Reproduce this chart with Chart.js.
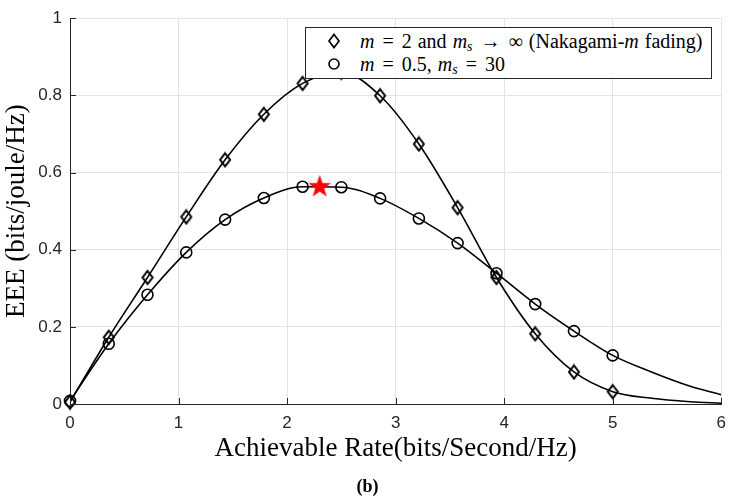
<!DOCTYPE html>
<html><head><meta charset="utf-8">
<script src="https://cdn.jsdelivr.net/npm/chart.js@4.4.1/dist/chart.umd.min.js"></script>
<style>
html,body{margin:0;padding:0;background:#fff;}
#wrap{position:relative;width:735px;height:496px;}
#legend{position:absolute;left:305px;top:27px;width:407px;height:52px;border:1px solid #262626;background:#fff;box-sizing:border-box;font-family:"Liberation Serif","DejaVu Serif",serif;font-size:20px;color:#000;word-spacing:1px;}
.row{position:absolute;left:0;height:24px;line-height:24px;white-space:nowrap;}
.row svg{position:absolute;left:21px;top:4px;}
.row span{position:absolute;left:54px;top:0;}
.op{margin:0 2px;}
#cap{position:absolute;left:0;width:735px;top:475px;text-align:center;font-family:"Liberation Serif","DejaVu Serif",serif;font-weight:bold;font-size:18px;line-height:22px;}
sub{font-size:70%;vertical-align:-3px;line-height:0;}
</style></head>
<body><div id="wrap"><canvas id="c" width="735" height="496"></canvas>
<div id="legend">
<div class="row" style="top:1px"><svg width="14" height="16"><polygon points="7,1.5 12,8 7,14.5 2,8" fill="none" stroke="#000" stroke-width="1.7"/></svg><span><i>m</i> <span class="op" style="position:static">=</span> 2 and <i>m<sub>s</sub></i> <span class="op" style="position:static">→</span> ∞ (Nakagami-<i>m</i> fading)</span></div>
<div class="row" style="top:24px"><svg width="14" height="16"><circle cx="7" cy="8" r="5" fill="none" stroke="#000" stroke-width="1.6"/></svg><span><i>m</i> <span class="op" style="position:static">=</span> 0.5, <i>m<sub>s</sub></i> <span class="op" style="position:static">=</span> 30</span></div>
</div>
<div id="cap">(b)</div>
</div>
<script>
// ---- data ----
const rateX = [0, 0.357, 0.714, 1.071, 1.429, 1.786, 2.143, 2.5, 2.857, 3.214, 3.571, 3.929, 4.286, 4.643, 5.0];
const eeeNakagami = [0.005, 0.173, 0.328, 0.485, 0.633, 0.751, 0.831, 0.86, 0.799, 0.674, 0.509, 0.328, 0.182, 0.083, 0.032];
const eeeShadowed = [0.008, 0.156, 0.283, 0.393, 0.478, 0.534, 0.563, 0.562, 0.533, 0.481, 0.417, 0.339, 0.259, 0.189, 0.126];
const tailX = [5.357, 5.714, 6.0];
const tailNakagami = [0.015, 0.006, 0.002];
const tailShadowed = [0.083, 0.046, 0.024];
const starX = [2.3];
const starY = [0.563];
const xTickValues = [0, 1, 2, 3, 4, 5, 6];
const yTickValues = [0, 0.2, 0.4, 0.6, 0.8, 1];
const xTitle = 'Achievable Rate(bits/Second/Hz)';
const yTitle = 'EEE (bits/joule/Hz)';

const pts = (xs, ys) => xs.map((x, i) => ({x, y: ys[i]}));

// marker images
function diamondImg(){
  const c = document.createElement('canvas'); c.width = 14; c.height = 17;
  const g = c.getContext('2d'); g.strokeStyle = '#000'; g.lineWidth = 2;
  g.beginPath(); g.moveTo(7,2); g.lineTo(12,8.5); g.lineTo(7,15); g.lineTo(2,8.5); g.closePath(); g.stroke();
  return c;
}
function starImg(){
  const c = document.createElement('canvas'); c.width = 26; c.height = 26;
  const g = c.getContext('2d'); g.fillStyle = '#ff0000';
  const R = 12, r = 4.7, cx = 13, cy = 13;
  g.beginPath();
  for (let i = 0; i < 10; i++){
    const a = -Math.PI/2 + i*Math.PI/5; const rr = i%2 ? r : R;
    const px = cx + rr*Math.cos(a), py = cy + rr*Math.sin(a);
    i ? g.lineTo(px,py) : g.moveTo(px,py);
  }
  g.closePath(); g.fill();
  return c;
}

const inwardTicks = {
  id: 'inwardTicks',
  afterDatasetsDraw(chart){
    const {ctx, chartArea: a, scales: {x, y}} = chart;
    ctx.save(); ctx.strokeStyle = '#262626'; ctx.lineWidth = 1;
    xTickValues.forEach(v => { const p = Math.round(x.getPixelForValue(v)) + 0.5; ctx.beginPath(); ctx.moveTo(p, a.bottom); ctx.lineTo(p, a.bottom - 6); ctx.stroke(); });
    yTickValues.forEach(v => { const p = Math.round(y.getPixelForValue(v)) + 0.5; ctx.beginPath(); ctx.moveTo(a.left, p); ctx.lineTo(a.left + 6, p); ctx.stroke(); });
    ctx.restore();
  }
};

const lineStyle = {showLine: true, pointRadius: 0, borderColor: '#000', borderWidth: 1.6, cubicInterpolationMode: 'monotone', fill: false};

new Chart(document.getElementById('c'), {
  type: 'scatter',
  data: {
    datasets: [
      {label: 'peak', data: pts(starX, starY), pointStyle: starImg(), pointRadius: 12, order: 0, clip: false},
      {label: 'm=2 markers', data: pts(rateX, eeeNakagami), pointStyle: diamondImg(), pointRadius: 7, order: 1, clip: false},
      {label: 'm=0.5 markers', data: pts(rateX, eeeShadowed), pointStyle: 'circle', pointRadius: 5.5, borderWidth: 1.6, borderColor: '#000', backgroundColor: 'rgba(0,0,0,0)', order: 2, clip: false},
      Object.assign({label: 'm=2', data: pts(rateX.concat(tailX), eeeNakagami.concat(tailNakagami)), order: 3}, lineStyle),
      Object.assign({label: 'm=0.5', data: pts(rateX.concat(tailX), eeeShadowed.concat(tailShadowed)), order: 4}, lineStyle)
    ]
  },
  options: {
    responsive: false, animation: false, devicePixelRatio: 1,
    layout: {padding: {left: 0, right: 8, top: 16, bottom: 31}},
    plugins: {legend: {display: false}, tooltip: {enabled: false}},
    scales: {
      x: {
        type: 'linear', min: 0, max: 6,
        afterBuildTicks: s => { s.ticks = xTickValues.map(v => ({value: v})); },
        afterFit: s => { s.height = 61; },
        ticks: {color: '#262626', font: {family: '"Liberation Sans", Arial, sans-serif', size: 17}, padding: 9, maxRotation: 0},
        grid: {color: '#e3e3e3', drawTicks: false, lineWidth: 1},
        border: {color: '#262626', width: 1},
        title: {display: true, text: xTitle, color: '#000', font: {family: '"Liberation Serif", "DejaVu Serif", serif', size: 27}, padding: {top: 0, bottom: 0}}
      },
      y: {
        type: 'linear', min: 0, max: 1,
        afterBuildTicks: s => { s.ticks = yTickValues.map(v => ({value: v})); },
        afterFit: s => { s.width = 70; },
        ticks: {color: '#262626', font: {family: '"Liberation Sans", Arial, sans-serif', size: 17}, padding: 8, callback: v => String(v)},
        grid: {color: '#e3e3e3', drawTicks: false, lineWidth: 1},
        border: {color: '#262626', width: 1},
        title: {display: true, text: yTitle, color: '#000', font: {family: '"Liberation Serif", "DejaVu Serif", serif', size: 27}, padding: {top: 1, bottom: 0}}
      }
    }
  },
  plugins: [inwardTicks]
});
</script></body></html>
